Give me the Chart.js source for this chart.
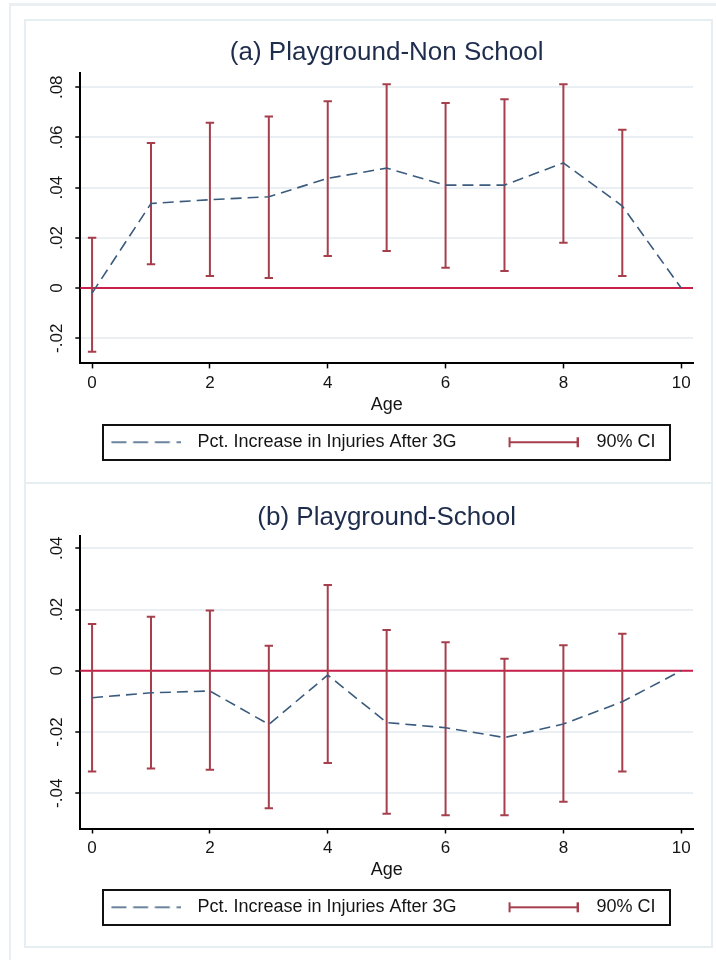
<!DOCTYPE html>
<html>
<head>
<meta charset="utf-8">
<script src="https://cdn.jsdelivr.net/npm/chart.js@4.4.1/dist/chart.umd.min.js"></script>
<style>
html,body{margin:0;padding:0;background:#fff;}
body{width:716px;height:960px;position:relative;overflow:hidden;font-family:"Liberation Sans",Arial,sans-serif;}
.frameTop{position:absolute;left:9px;top:3px;width:707px;height:3px;background:#e9eff3;}
.frameLeft{position:absolute;left:9px;top:3px;width:2px;height:957px;background:#e9eff3;}
.panel{position:absolute;left:24px;width:689px;border:2px solid #e7eef2;box-sizing:border-box;}
#p1{top:19px;height:465px;}
#p2{top:482px;height:466px;}
canvas{position:absolute;left:26px;}
#c1{top:22px;}
#c2{top:485px;}
</style>
</head>
<body>
<div class="frameTop"></div>
<div class="frameLeft"></div>
<div class="panel" id="p1"></div>
<div class="panel" id="p2"></div>
<canvas id="c1" width="686" height="460"></canvas>
<canvas id="c2" width="686" height="461"></canvas>
<script>
// ---------- data ----------
const ages = [0, 1, 2, 3, 4, 5, 6, 7, 8, 9, 10];
const ciAges = [0, 1, 2, 3, 4, 5, 6, 7, 8, 9];
const xTickValues = [0, 2, 4, 6, 8, 10];

const nonSchoolEst = [-0.002, 0.0337, 0.0352, 0.0364, 0.0437, 0.0478, 0.0410, 0.0410, 0.0499, 0.0327, 0.0];
const nonSchoolLo  = [-0.0254, 0.0095, 0.0048, 0.0040, 0.0128, 0.0148, 0.0081, 0.0068, 0.0181, 0.0048];
const nonSchoolHi  = [0.0201, 0.0578, 0.0659, 0.0684, 0.0744, 0.0812, 0.0737, 0.0752, 0.0812, 0.0631];
const nonSchoolYTicks = [-0.02, 0, 0.02, 0.04, 0.06, 0.08];
const nonSchoolYRange = [-0.030, 0.0858];

const schoolEst = [-0.0088, -0.0072, -0.0066, -0.0175, -0.0014, -0.0169, -0.0186, -0.0218, -0.0174, -0.0101, 0.0];
const schoolLo  = [-0.0329, -0.0319, -0.0323, -0.0449, -0.0301, -0.0467, -0.0472, -0.0472, -0.0428, -0.0329];
const schoolHi  = [0.0153, 0.0176, 0.0197, 0.0082, 0.0280, 0.0133, 0.0093, 0.0039, 0.0083, 0.0121];
const schoolYTicks = [-0.04, -0.02, 0, 0.02, 0.04];
const schoolYRange = [-0.0515, 0.044];

const xRange = [-0.2, 10.2];
const referenceValue = 0;
const panelTitles = ["(a) Playground-Non School", "(b) Playground-School"];
const xAxisTitle = "Age";
const estLabel = "Pct. Increase in Injuries After 3G";
const ciLabel = "90% CI";

// ---------- styles ----------
const FONT = "'Liberation Sans', Arial, sans-serif";
const EST_COLOR = '#3b5b7d';
const CI_COLOR = '#a63e4c';
const ZERO_COLOR = '#c8204a';
const GRID_COLOR = '#e9eff3';
const TITLE_COLOR = '#1f2d4d';
const TEXT_COLOR = '#141414';

Chart.defaults.font.family = FONT;

function fmtTick(v) {
  if (Math.abs(v) < 1e-9) return '0';
  const s = Math.abs(v).toFixed(2).replace(/^0/, '');
  return (v < 0 ? '-' : '') + s;
}

// legend symbols (drawn as point-style images)
const BOX_W = 114;
function dashSymbol() {
  const c = document.createElement('canvas');
  c.width = 100; c.height = 14;
  const g = c.getContext('2d');
  g.strokeStyle = EST_COLOR; g.lineWidth = 1.7;
  g.setLineDash([15, 6.7]);
  g.beginPath(); g.moveTo(30, 7); g.lineTo(100, 7); g.stroke();
  return c;
}
function ciSymbol() {
  const c = document.createElement('canvas');
  c.width = 96; c.height = 14;
  const g = c.getContext('2d');
  g.strokeStyle = CI_COLOR; g.lineWidth = 2;
  g.beginPath(); g.moveTo(26, 7); g.lineTo(96, 7);
  g.moveTo(27, 2); g.lineTo(27, 12);
  g.moveTo(95, 2); g.lineTo(95, 12);
  g.stroke();
  return c;
}

const zeroLinePlugin = {
  id: 'zeroLine',
  beforeDatasetsDraw(chart) {
    const {ctx, chartArea, scales} = chart;
    const y = scales.y.getPixelForValue(referenceValue);
    ctx.save();
    ctx.strokeStyle = ZERO_COLOR; ctx.lineWidth = 2;
    ctx.beginPath(); ctx.moveTo(chartArea.left, y); ctx.lineTo(chartArea.right, y); ctx.stroke();
    ctx.restore();
  }
};

const legendBoxPlugin = {
  id: 'legendBox',
  afterDraw(chart) {
    const lg = chart.legend;
    if (!lg || !lg.legendHitBoxes || lg.legendHitBoxes.length < 2) return;
    const hb = lg.legendHitBoxes;
    const left = hb[0].left + 37 - 8;
    const right = hb[1].left + hb[1].width + 15;
    const cy = hb[0].top + hb[0].height / 2;
    const ctx = chart.ctx;
    ctx.save();
    ctx.strokeStyle = '#111'; ctx.lineWidth = 2;
    ctx.strokeRect(Math.round(left), Math.round(cy - 17.5), Math.round(right - left), 35);
    ctx.restore();
  }
};

function buildChart(canvasId, title, est, lo, hi, yTicks, yRange, titlePad, bottomPad) {
  const ciData = [];
  ciAges.forEach((a, i) => {
    ciData.push({x: a, y: lo[i]});
    ciData.push({x: a, y: hi[i]});
    ciData.push({x: a, y: null});
  });
  const estData = ages.map((a, i) => ({x: a, y: est[i]}));
  const dashImg = dashSymbol();
  const ciImg = ciSymbol();

  return new Chart(document.getElementById(canvasId), {
    type: 'line',
    data: {
      datasets: [
        {
          label: estLabel, data: estData,
          borderColor: EST_COLOR, borderWidth: 1.6, borderDash: [11, 6],
          pointRadius: 0, tension: 0, fill: false
        },
        {
          label: ciLabel, data: ciData,
          borderColor: CI_COLOR, borderWidth: 2, spanGaps: false,
          pointStyle: 'line', pointRadius: 4.2, pointBorderWidth: 2,
          pointBorderColor: CI_COLOR, pointBackgroundColor: CI_COLOR,
          pointHoverRadius: 4.2, fill: false
        }
      ]
    },
    options: {
      responsive: false, animation: false, devicePixelRatio: 1,
      layout: {padding: {left: 11, right: 19, top: 0, bottom: bottomPad}},
      plugins: {
        tooltip: {enabled: false},
        title: {
          display: true, text: title, fullSize: false,
          color: TITLE_COLOR, font: {size: 26, weight: 'normal', family: FONT},
          padding: titlePad
        },
        legend: {
          display: true, position: 'bottom', fullSize: true,
          labels: {
            usePointStyle: true, pointStyleWidth: BOX_W, padding: 17,
            color: TEXT_COLOR, font: {size: 18, family: FONT},
            generateLabels: () => [
              {text: estLabel, pointStyle: dashImg, hidden: false, lineWidth: 0, strokeStyle: 'rgba(0,0,0,0)', fillStyle: 'rgba(0,0,0,0)', fontColor: TEXT_COLOR, datasetIndex: 0},
              {text: ciLabel, pointStyle: ciImg, hidden: false, lineWidth: 0, strokeStyle: 'rgba(0,0,0,0)', fillStyle: 'rgba(0,0,0,0)', fontColor: TEXT_COLOR, datasetIndex: 1}
            ]
          }
        }
      },
      scales: {
        x: {
          type: 'linear', min: xRange[0], max: xRange[1],
          afterBuildTicks: s => { s.ticks = xTickValues.map(v => ({value: v})); },
          afterFit: s => { s.height = 52.8; },
          grid: {drawOnChartArea: false, drawTicks: true, tickLength: 5, tickColor: '#000', tickWidth: 1.5},
          border: {display: true, color: '#000', width: 2},
          ticks: {color: TEXT_COLOR, font: {size: 17}, padding: 5, maxRotation: 0, callback: v => String(v)},
          title: {display: true, text: xAxisTitle, color: TEXT_COLOR, font: {size: 18}, padding: {top: 0, bottom: 0}}
        },
        y: {
          type: 'linear', min: yRange[0], max: yRange[1],
          afterBuildTicks: s => { s.ticks = yTicks.map(v => ({value: v})); },
          afterFit: s => { s.width = 43.3; },
          grid: {color: GRID_COLOR, lineWidth: 2, drawTicks: true, tickLength: 5, tickColor: '#000', tickWidth: 1.5},
          border: {display: true, color: '#000', width: 2},
          ticks: {color: TEXT_COLOR, font: {size: 17}, padding: 3.5, minRotation: 90, maxRotation: 90, crossAlign: 'center', callback: v => fmtTick(v)}
        }
      }
    },
    plugins: [zeroLinePlugin, legendBoxPlugin]
  });
}

buildChart('c1', panelTitles[0], nonSchoolEst, nonSchoolLo, nonSchoolHi, nonSchoolYTicks, nonSchoolYRange, {top: 15.4, bottom: 4.1}, 20.8);
buildChart('c2', panelTitles[1], schoolEst, schoolLo, schoolHi, schoolYTicks, schoolYRange, {top: 17.4, bottom: 2.4}, 19.7);
</script>
</body>
</html>
